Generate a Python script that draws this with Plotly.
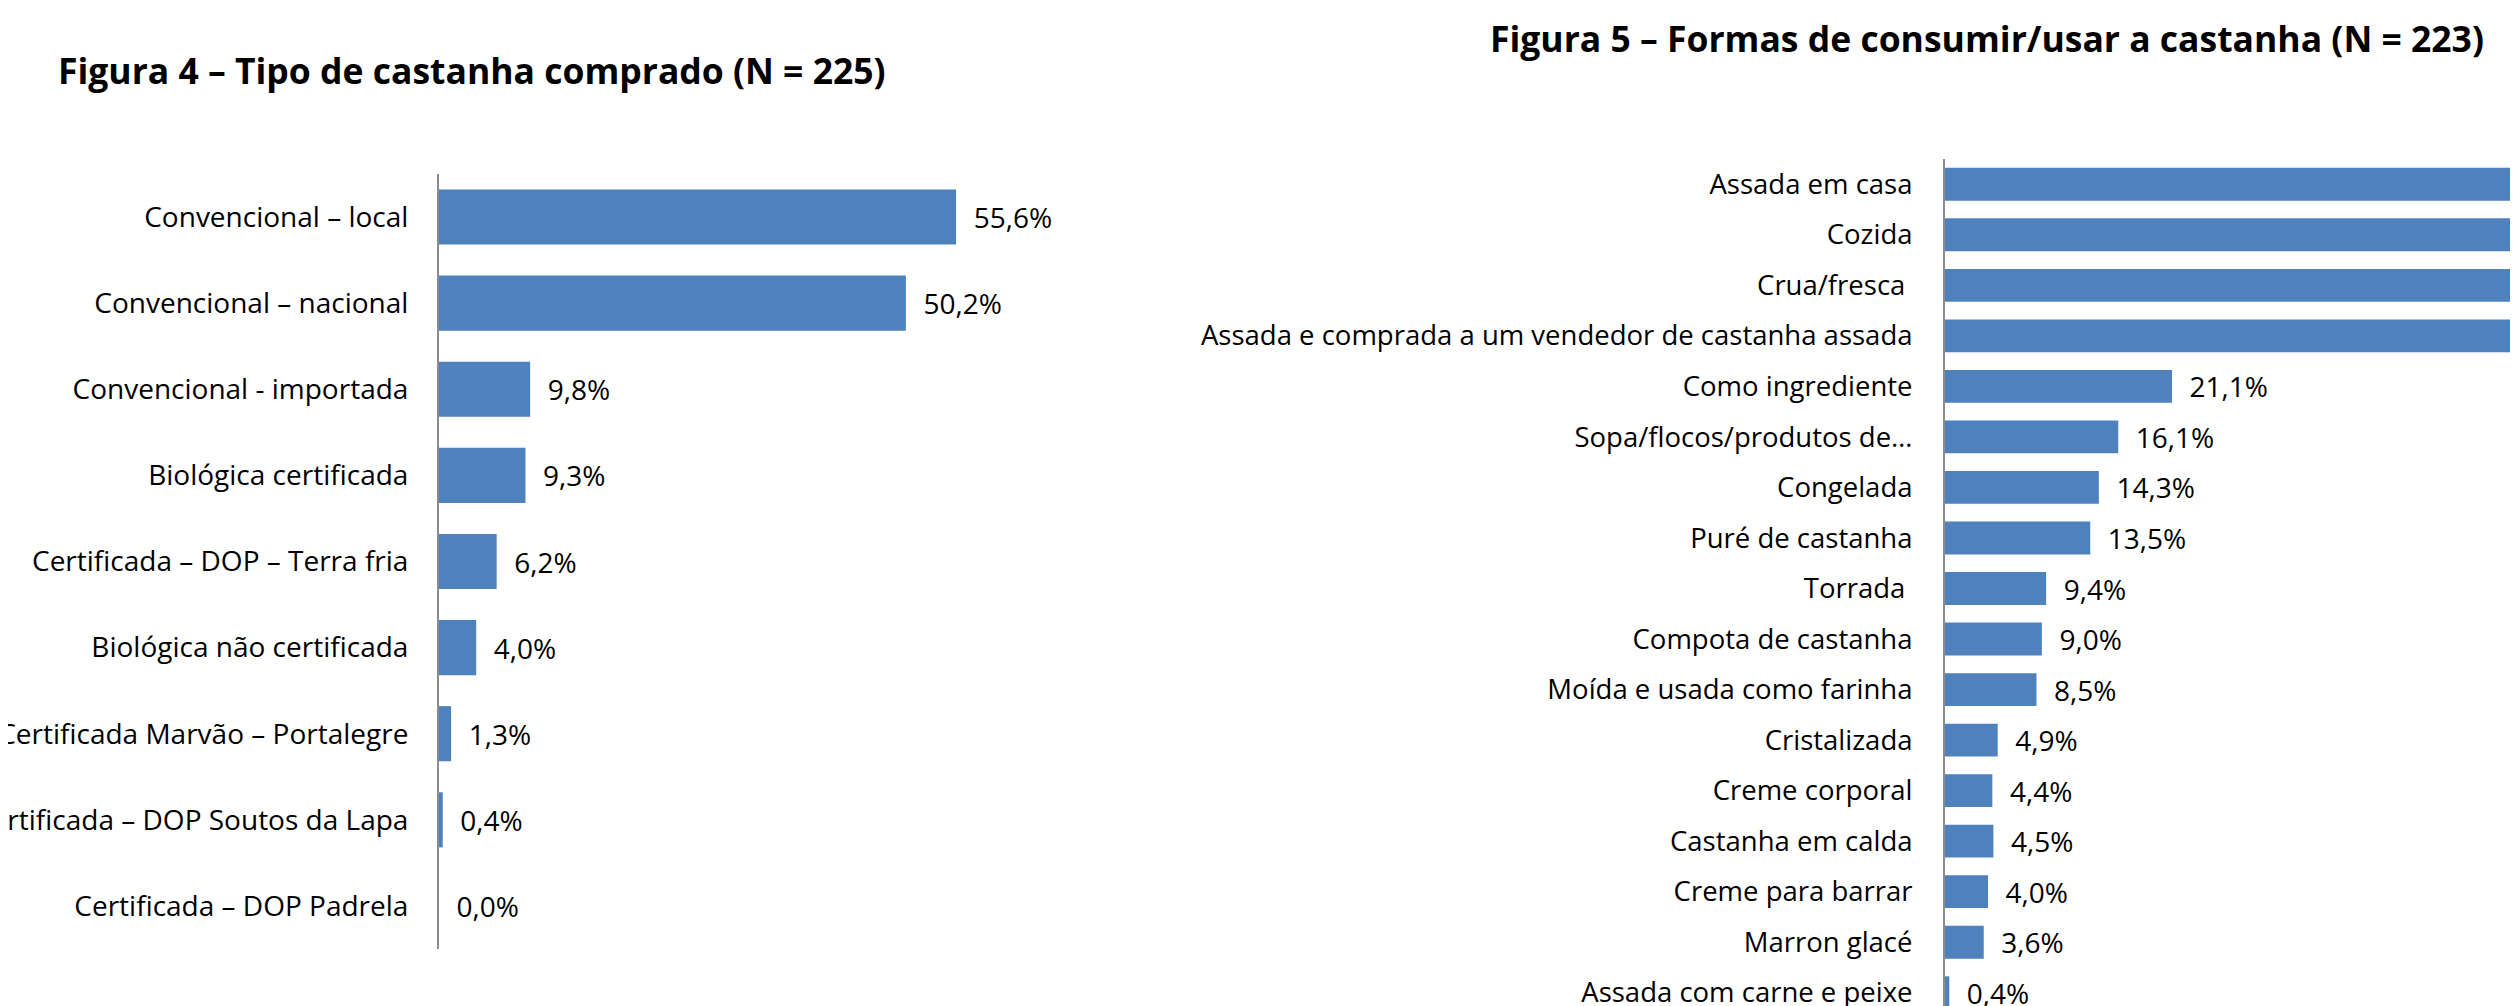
import plotly.graph_objects as go

# ---- Figura 4 data ----
cats4 = [
    "Convencional – local",
    "Convencional – nacional",
    "Convencional - importada",
    "Biológica certificada",
    "Certificada – DOP – Terra fria",
    "Biológica não certificada",
    "Certificada Marvão – Portalegre",
    "Certificada – DOP Soutos da Lapa",
    "Certificada – DOP Padrela",
]
vals4 = [55.6, 50.2, 9.8, 9.3, 6.2, 4.0, 1.3, 0.4, 0.0]

# ---- Figura 5 data ----
cats5 = [
    "Assada em casa",
    "Cozida",
    "Crua/fresca\u00a0",
    "Assada e comprada a um vendedor de castanha assada",
    "Como ingrediente",
    "Sopa/flocos/produtos de…",
    "Congelada",
    "Puré de castanha",
    "Torrada\u00a0",
    "Compota de castanha",
    "Moída e usada como farinha",
    "Cristalizada",
    "Creme corporal",
    "Castanha em calda",
    "Creme para barrar",
    "Marron glacé",
    "Assada com carne e peixe",
]
# first four bars run off the visible area in the reference; values estimated
vals5 = [85.2, 71.3, 61.0, 57.4, 21.1, 16.1, 14.3, 13.5, 9.4, 9.0, 8.5, 4.9, 4.4, 4.5, 4.0, 3.6, 0.4]

title4 = "Figura 4 – Tipo de castanha comprado (N = 225)"
title5 = "Figura 5 – Formas de consumir/usar a castanha (N = 223)"

BAR = "#4F81BD"
FONT = "Open Sans"

# page is offset by the default 8px body margin
OFF = 8
PW, PH = 2518, 1006
W, H = PW - OFF, PH - OFF


def fmt(v):
    return "\u00a0\u00a0" + f"{v:.1f}".replace(".", ",") + "%"


fig = go.Figure()
fig.add_trace(go.Bar(
    y=cats4, x=vals4, orientation="h", width=0.64,
    marker=dict(color=BAR, line=dict(width=0)),
    text=[fmt(v) for v in vals4], textposition="outside", constraintext="none",
    textfont=dict(family=FONT, size=28, color="#000"),
    cliponaxis=False, xaxis="x", yaxis="y", hoverinfo="skip",
))
fig.add_trace(go.Bar(
    y=cats5, x=vals5, orientation="h", width=0.65,
    marker=dict(color=BAR, line=dict(width=0)),
    text=[fmt(v) for v in vals5], textposition="outside", constraintext="none",
    textfont=dict(family=FONT, size=28, color="#000"),
    cliponaxis=True, xaxis="x2", yaxis="y2", hoverinfo="skip",
))

# pixel geometry (page coordinates), converted to figure coordinates
ax4_x, ax4_top, ax4_bot, px4 = 439 - OFF, 174 - OFF, 949 - OFF, 9.30
ax5_x, ax5_top, px5, step5 = 1945 - OFF, 159 - OFF, 10.76, 50.53
right4 = 1150 - OFF

hidden_x = dict(showgrid=False, zeroline=False, showline=False, showticklabels=False,
                ticks="", automargin=False, fixedrange=True)
ycommon = dict(type="category", showgrid=False, zeroline=False, showline=True,
               linecolor="#8c8c8c", linewidth=2, ticks="", automargin=False,
               fixedrange=True)

vis5 = (H - ax5_top) / step5

fig.update_layout(
    width=W, height=H, template="none",
    margin=dict(l=0, r=0, t=0, b=0, pad=0),
    paper_bgcolor="white", plot_bgcolor="white",
    showlegend=False,
    font=dict(family=FONT, color="#000"),
    xaxis=dict(domain=[ax4_x / W, right4 / W], range=[0, (right4 - ax4_x) / px4],
               anchor="y", **hidden_x),
    yaxis=dict(domain=[(H - ax4_bot) / H, (H - ax4_top) / H], range=[len(cats4) - 0.5, -0.5],
               anchor="x", ticklabelstandoff=23,
               tickfont=dict(family=FONT, size=28, color="#000"), **ycommon),
    xaxis2=dict(domain=[ax5_x / W, 1.0], range=[0, (W - ax5_x) / px5],
                anchor="y2", **hidden_x),
    yaxis2=dict(domain=[0.0, (H - ax5_top) / H], range=[vis5 - 0.5, -0.5],
                anchor="x2", ticklabelstandoff=25,
                tickfont=dict(family=FONT, size=27.5, color="#000"), **ycommon),
    annotations=[
        dict(text=title4, x=(56 - OFF) / W, y=1 - (70 - OFF) / H, xref="paper", yref="paper",
             xanchor="left", yanchor="middle", showarrow=False,
             font=dict(family=FONT, size=35.5, color="#000", weight="bold")),
        dict(text=title5, x=(1488 - OFF) / W, y=1 - (38 - OFF) / H, xref="paper", yref="paper",
             xanchor="left", yanchor="middle", showarrow=False,
             font=dict(family=FONT, size=35.5, color="#000", weight="bold")),
    ],
)

fig.write_html("out.html")
